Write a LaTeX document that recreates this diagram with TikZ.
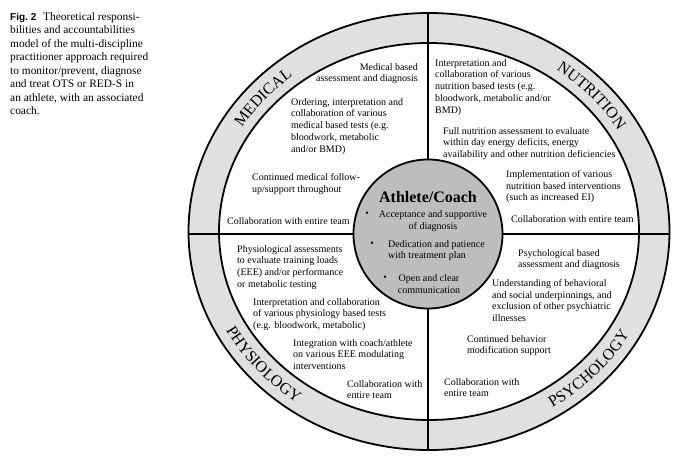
\documentclass[tikz,border=0pt]{standalone}
\usepackage{fontspec}
\setmainfont{Liberation Serif}
\newfontfamily\figsans{Liberation Sans}
\usetikzlibrary{decorations.text}
\definecolor{bandgray}{gray}{0.88}
\definecolor{centergray}{gray}{0.74}
\newcommand{\ringfont}{\fontsize{16}{16}\selectfont}
\begin{document}
\begin{tikzpicture}[x=1pt,y=1pt,
  txt/.style={inner sep=0pt, anchor=north west, align=left, font=\fontsize{10}{11.8}\selectfont},
  ctxt/.style={inner sep=0pt, anchor=north, align=center, font=\fontsize{10}{12.2}\selectfont},
  bul/.style={inner sep=0pt, font=\fontsize{10}{12}\selectfont},
  ring/.style={line width=1.8pt},
  cross/.style={line width=2.8pt},
  ringlabel/.style={decorate, decoration={text along path, text align=center, text={|\ringfont|#1}}}
]
\useasboundingbox (0,0) rectangle (680,456);

% caption
\node[anchor=north west, inner sep=0pt, align=left, font=\fontsize{11.4}{13.5}\selectfont] (cap) at (10,444)
  {{\figsans\bfseries\fontsize{10}{13.5}\selectfont Fig.~2}\hspace{0.6em}Theoretical responsi-\\
   bilities and accountabilities\\
   model of the multi-discipline\\
   practitioner approach required\\
   to monitor/prevent, diagnose\\
   and treat OTS or RED-S in\\
   an athlete, with an associated\\
   coach.};

% rings
\coordinate (c) at (429,224.5);
\draw[ring, fill=bandgray] (c) ellipse [x radius=240.5pt, y radius=218.5pt];
\draw[ring, fill=white] (c) ellipse [x radius=210pt, y radius=188.5pt];

% ring labels
\path[ringlabel={MEDICAL}] (c) ++(169:219.7pt and 198.2pt)
  arc[start angle=169, end angle=109, x radius=219.7pt, y radius=198.2pt];
\path[ringlabel={NUTRITION}] (c) ++(72:219.7pt and 198.2pt)
  arc[start angle=72, end angle=12, x radius=219.7pt, y radius=198.2pt];
\path[ringlabel={PHYSIOLOGY}] (c) ++(191:230.3pt and 208.8pt)
  arc[start angle=191, end angle=251, x radius=230.3pt, y radius=208.8pt];
\path[ringlabel={PSYCHOLOGY}] (c) ++(287:230.3pt and 208.8pt)
  arc[start angle=287, end angle=347, x radius=230.3pt, y radius=208.8pt];

% centre circle and cross
\node[circle, draw, line width=1.8pt, fill=centergray, minimum size=149pt, inner sep=0pt] (ac) at (428,222) {};
\coordinate (T) at (428,443);
\coordinate (B) at (428,6);
\coordinate (L) at (188.5,222);
\coordinate (R) at (669.5,222);
\draw[cross] (T) -- (ac.north);
\draw[cross] (ac.south) -- (B);
\draw[cross] (L) -- (ac.west);
\draw[cross] (ac.east) -- (R);

% centre text
\node[inner sep=0pt, font=\fontsize{16}{16}\selectfont\bfseries] (title) at (428,259) {Athlete/Coach};
\node[bul] (b1) at (367,242) {•};
\node[ctxt] (c1) at (433,246) {Acceptance and supportive\\of diagnosis};
\node[bul] (b2) at (372,212) {•};
\node[txt] (c2) at (388,216) {Dedication and patience\\with treatment plan};
\node[bul] (b3) at (385,178) {•};
\node[ctxt] (c3) at (429,182) {Open and clear\\communication};

% medical
\node[txt, anchor=north east, align=right] (m1) at (418,393) {Medical based\\assessment and diagnosis};
\node[txt] (m2) at (291,358) {Ordering, interpretation and\\collaboration of various\\medical based tests (e.g.\\bloodwork, metabolic\\and/or BMD)};
\node[txt] (m3) at (252,283) {Continued medical follow-\\up/support throughout};
\node[txt] (m4) at (227,239) {Collaboration with entire team};

% nutrition
\node[txt] (n1) at (435,397) {Interpretation and\\collaboration of various\\nutrition based tests (e.g.\\bloodwork, metabolic and/or\\BMD)};
\node[txt] (n2) at (443,329) {Full nutrition assessment to evaluate\\within day energy deficits, energy\\availability and other nutrition deficiencies};
\node[txt] (n3) at (506,286) {Implementation of various\\nutrition based interventions\\(such as increased EI)};
\node[txt] (n4) at (511,241) {Collaboration with entire team};

% physiology
\node[txt] (p1) at (237,211) {Physiological assessments\\to evaluate training loads\\(EEE) and/or performance\\or metabolic testing};
\node[txt] (p2) at (253,158) {Interpretation and collaboration\\of various physiology based tests\\(e.g. bloodwork, metabolic)};
\node[txt] (p3) at (293,117) {Integration with coach/athlete\\on various EEE modulating\\interventions};
\node[txt] (p4) at (347,76) {Collaboration with\\entire team};

% psychology
\node[txt] (s1) at (518,207) {Psychological based\\assessment and diagnosis};
\node[txt] (s2) at (492,177) {Understanding of behavioral\\and social underpinnings, and\\exclusion of other psychiatric\\illnesses};
\node[txt] (s3) at (467,121) {Continued behavior\\modification support};
\node[txt] (s4) at (444,78) {Collaboration with\\entire team};
\end{tikzpicture}
\end{document}
